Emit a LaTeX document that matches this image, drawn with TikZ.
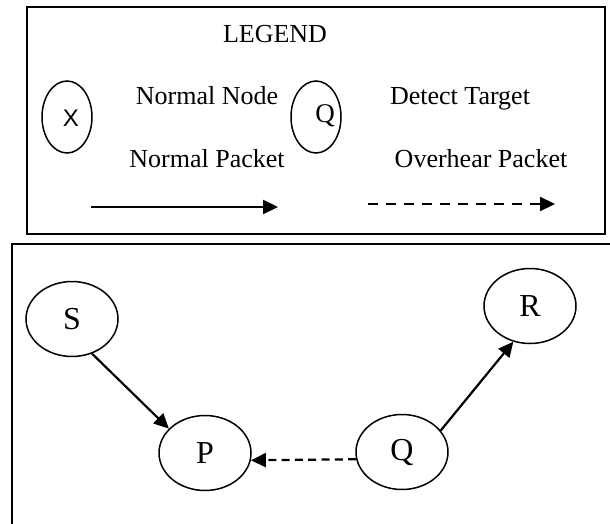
\documentclass[tikz,border=0pt]{standalone}
\usepackage{fontspec}
\setmainfont{Liberation Serif}
\newfontfamily\legsans{Liberation Sans}
\usepackage{tikz}
\usetikzlibrary{arrows,arrows.meta,shapes}

\begin{document}
\begin{tikzpicture}[x=1pt,y=-1pt,
	nd/.style={draw, ellipse, line width=1.5pt, minimum width=92pt, minimum height=75pt, inner sep=0pt, font=\fontsize{32}{32}\selectfont},
	lnd/.style={draw, ellipse, line width=1.5pt, minimum width=50pt, minimum height=72pt, inner sep=0pt},
	txt/.style={anchor=base, font=\fontsize{26}{26}\selectfont},
	pkt/.style={->, >={Triangle[length=15pt,width=14pt]}, line width=2.2pt},
	ovh/.style={pkt, dash pattern=on 10pt off 8pt}]
	\useasboundingbox (0,0) rectangle (610,524);
	\clip (0,0) rectangle (610,524);
	
	% legend box
	\draw[line width=2pt] (27,7) rectangle (605,234);
	\node[txt] (leg) at (275,43) {LEGEND};
	
	\node[lnd] (lx) at (67,117) {};
	\node[font=\legsans\fontsize{24}{24}\selectfont] (lxt) at (71,118) {X};
	\node[txt] (lnorm) at (207,105) {Normal Node};
	
	\node[lnd] (lq) at (316,117) {};
	\node[font=\fontsize{27}{27}\selectfont] (lqt) at (325,116) {Q};
	\node[txt] (ldet) at (460,105) {Detect Target};
	
	\node[txt] (lpkt) at (207,167) {Normal Packet};
	\node[txt] (lovh) at (481,167) {Overhear Packet};
	
	\coordinate (a1) at (91,207);
	\coordinate (a2) at (278,207);
	\coordinate (b1) at (368,204);
	\coordinate (b2) at (555,204);
	\draw[pkt] (a1)--(a2);
	\draw[ovh] (b1)--(b2);
	
	% network box
	\draw[line width=2pt] (12,244) rectangle (640,560);
	
	\node[nd] (S) at (72,319) {S};
	\node[nd] (P) at (205,453) {P};
	\node[nd] (Q) at (402,452) {Q};
	\node[nd] (R) at (530,306) {R};
	
	\draw[pkt] (S.-60)--(P.146);
	\draw[ovh, dash pattern=on 8pt off 5.3pt] (Q.189)--(P.-9);
	\draw[pkt] (Q.29)--(R.245);
\end{tikzpicture}
\end{document}
